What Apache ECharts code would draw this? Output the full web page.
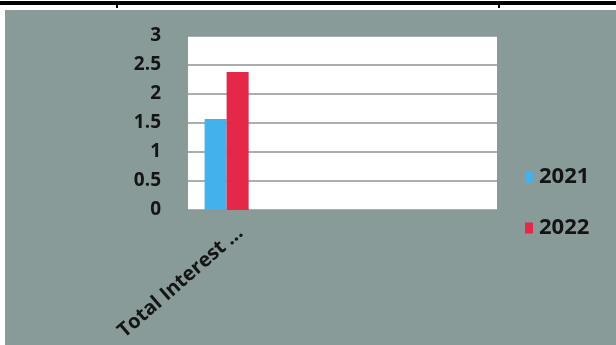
<!DOCTYPE html>
<html>
<head>
<meta charset="utf-8">
<script src="https://cdn.jsdelivr.net/npm/echarts@6/dist/echarts.min.js"></script>
<style>
  html, body { margin: 0; padding: 0; background: #ffffff; }
  #page { position: relative; width: 616px; height: 345px; overflow: hidden; background: #ffffff; }
  #rule { position: absolute; left: 0; top: 1px; width: 616px; height: 4px; background: #000; }
  .tick { position: absolute; top: 4px; width: 2px; height: 4px; background: #000; }
  #chart { position: absolute; left: 5px; top: 10px; width: 611px; height: 335px; background: #889b99; }
</style>
</head>
<body>
<div id="page">
  <div id="rule"></div>
  <div class="tick" style="left:116px"></div>
  <div class="tick" style="left:498px"></div>
  <div id="chart"></div>
</div>
<script>
// Category axis: one labelled group followed by empty slots
const categories = ['Total Interest ...', '', '', ''];
const seriesNames = ['2021', '2022'];
const values2021 = [1.57, null, null, null];
const values2022 = [2.38, null, null, null];
const yTicks = { min: 0, max: 3, interval: 0.5 };

const chart = echarts.init(document.getElementById('chart'), null, { renderer: 'canvas' });

const font = { fontFamily: 'Open Sans', fontWeight: 'bold', color: '#141414' };

chart.setOption({
  animation: false,
  backgroundColor: 'transparent',
  grid: {
    left: 183, top: 26, width: 309, height: 174,
    show: true, backgroundColor: '#ffffff', borderWidth: 0
  },
  legend: {
    orient: 'vertical',
    left: 515, top: 151,
    itemWidth: 8, itemHeight: 11, itemGap: 29,
    icon: 'rect',
    textStyle: Object.assign({}, font, { fontSize: 22, padding: [0, 0, 0, 1] }),
    data: seriesNames
  },
  xAxis: {
    type: 'category',
    data: categories,
    axisLine: { show: false },
    axisTick: { show: false },
    axisLabel: Object.assign({}, font, {
      fontSize: 20, rotate: 41, margin: 32, interval: 0,
      padding: [0, -18, 0, 0]
    })
  },
  yAxis: {
    type: 'value',
    min: yTicks.min, max: yTicks.max, interval: yTicks.interval,
    axisLine: { show: false },
    axisTick: { show: false },
    axisLabel: Object.assign({}, font, { fontSize: 19, margin: 27 }),
    splitLine: { lineStyle: { color: '#8d9494', width: 1.5 } }
  },
  series: [
    {
      name: seriesNames[0], type: 'bar', data: values2021,
      itemStyle: { color: '#42b1ec' },
      barGap: '0%', barCategoryGap: '43%'
    },
    {
      name: seriesNames[1], type: 'bar', data: values2022,
      itemStyle: { color: '#e5284a' },
      barGap: '0%', barCategoryGap: '43%'
    }
  ]
});
</script>
</body>
</html>
